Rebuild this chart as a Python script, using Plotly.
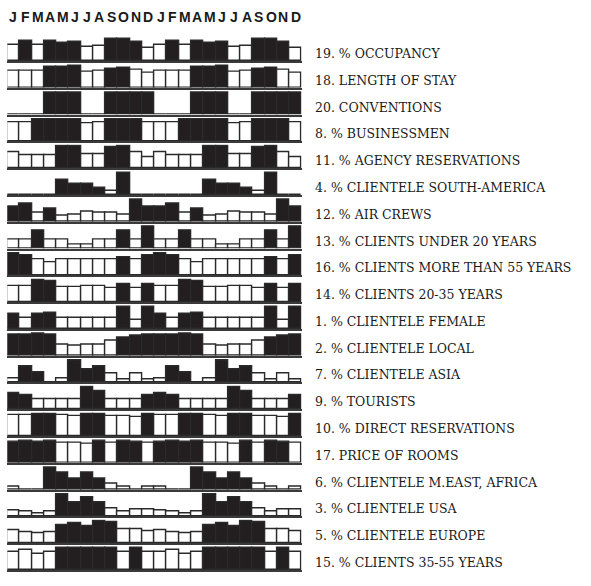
import plotly.graph_objects as go

months = ["J", "F", "M", "A", "M", "J", "J", "A", "S", "O", "N", "D"]

labels = [
    "19. % OCCUPANCY",
    "18. LENGTH OF STAY",
    "20. CONVENTIONS",
    "8. % BUSINESSMEN",
    "11. % AGENCY RESERVATIONS",
    "4. % CLIENTELE SOUTH-AMERICA",
    "12. % AIR CREWS",
    "13. % CLIENTS UNDER 20 YEARS",
    "16. % CLIENTS MORE THAN 55 YEARS",
    "14. % CLIENTS 20-35 YEARS",
    "1. % CLIENTELE FEMALE",
    "2. % CLIENTELE LOCAL",
    "7. % CLIENTELE ASIA",
    "9. % TOURISTS",
    "10. % DIRECT RESERVATIONS",
    "17. PRICE OF ROOMS",
    "6. % CLIENTELE M.EAST, AFRICA",
    "3. % CLIENTELE USA",
    "5. % CLIENTELE EUROPE",
    "15. % CLIENTS 35-55 YEARS",
]

occupancy = [66, 81, 66, 81, 74, 77, 56, 59, 90, 89, 77, 54]
length_of_stay = [1.47, 1.47, 1.47, 1.88, 1.88, 2.0, 1.38, 1.47, 1.70, 1.76, 1.60, 1.29]
conventions = [0, 0, 0, 1, 1, 1, 0, 0, 1, 1, 1, 1]
businessmen = [74, 74, 87, 87, 87, 87, 68, 74, 87, 87, 87, 74]
agency_res = [19, 16, 16, 16, 26, 26, 17, 17, 25, 27, 19, 13]
south_america = [0, 0, 0, 0, 8, 6, 6, 4, 2, 12, 0, 0]
air_crews = [10, 12, 6, 9, 4, 5, 7, 6, 6, 5, 15, 10]
under_20 = [2, 2, 4, 2, 2, 1, 1, 2, 2, 4, 2, 5]
over_55 = [25, 22, 18, 15, 18, 18, 18, 18, 18, 20, 18, 22]
age_20_35 = [26, 27, 37, 35, 25, 25, 26, 26, 23, 29, 23, 29]
female = [26, 20, 26, 28, 19, 19, 19, 19, 19, 40, 16, 39]
local = [71, 71, 77, 71, 36, 33, 38, 38, 52, 61, 69, 71]
asia = [3, 11, 7, 0, 3, 15, 9, 10.5, 6, 2, 6, 2]
tourists = [22, 19, 13, 13, 14, 13, 30, 24, 13, 13, 13, 19]
direct_res = [70, 70, 75, 74, 69, 68, 74, 75, 68, 68, 64, 75]
price_rooms = [163, 167, 166, 174, 152, 155, 145, 170, 157, 174, 165, 156]
me_africa = [1, 0, 0, 8, 6, 4, 6, 4, 2, 1, 0, 1]
usa = [6, 5, 3, 5, 23, 14, 19, 14, 8, 5, 7, 7]
europe = [18, 15, 13, 15, 24, 27, 23, 30, 28, 19, 19, 16]
age_35_55 = [44, 48, 39, 44, 54, 54, 53, 53, 55, 44, 54, 43]

rows = [occupancy, length_of_stay, conventions, businessmen, agency_res,
        south_america, air_crews, under_20, over_55, age_20_35, female, local,
        asia, tourists, direct_res, price_rooms, me_africa, usa, europe, age_35_55]

W, H = 591, 586
X0, X1 = 7.3, 301.7          # bar area in px
BASE0, PITCH = 61.0, 26.79   # baseline of first row, row pitch (px)
AXH = 24.0                   # axis height in px
BARH = 22.5                  # px height of row maximum

BLACK = "#231f20"
fig = go.Figure()
layout = dict(
    width=W, height=H, margin=dict(l=0, r=0, t=0, b=0),
    paper_bgcolor="white", plot_bgcolor="rgba(0,0,0,0)",
    showlegend=False, bargap=0,
)
annotations = []
xs = list(range(24))
for i, vals in enumerate(rows):
    n = i + 1
    sfx = "" if n == 1 else str(n)
    v2 = vals + vals
    mean = sum(vals) / len(vals)
    colors = [BLACK if v > mean else "white" for v in v2]
    fig.add_trace(go.Bar(
        x=xs, y=v2, width=1.0,
        marker=dict(color=colors, line=dict(color="#2a2a2a", width=1.4)),
        xaxis="x" + sfx, yaxis="y" + sfx, hoverinfo="skip",
    ))
    base = BASE0 + PITCH * i
    top = base - AXH
    vmax = max(vals)
    layout["xaxis" + sfx] = dict(
        domain=[X0 / W, X1 / W], range=[-0.5, 23.5], anchor="y" + sfx,
        showgrid=False, zeroline=False, showticklabels=False, ticks="",
        showline=True, linecolor="#3a3a3a", linewidth=1.5, fixedrange=True,
    )
    layout["yaxis" + sfx] = dict(
        domain=[1 - base / H, 1 - top / H], range=[0, vmax * AXH / BARH],
        anchor="x" + sfx, showgrid=False, zeroline=False,
        showticklabels=False, ticks="", showline=False, fixedrange=True,
    )
    annotations.append(dict(
        x=313 / W, y=1 - (base - 7.5) / H, xref="paper", yref="paper",
        text=labels[i], showarrow=False, xanchor="left", yanchor="middle",
        font=dict(family="DejaVu Serif", size=12.5, color="#1a1a1a"),
    ))

for j, m in enumerate(months + months):
    annotations.append(dict(
        x=j, y=1 - 17 / H, xref="x", yref="paper", text=m, showarrow=False,
        xanchor="center", yanchor="middle",
        font=dict(family="Liberation Sans", size=14, color="#1a1a1a", weight="bold"),
    ))

layout["annotations"] = annotations
fig.update_layout(**layout)
fig.write_html("out.html")
